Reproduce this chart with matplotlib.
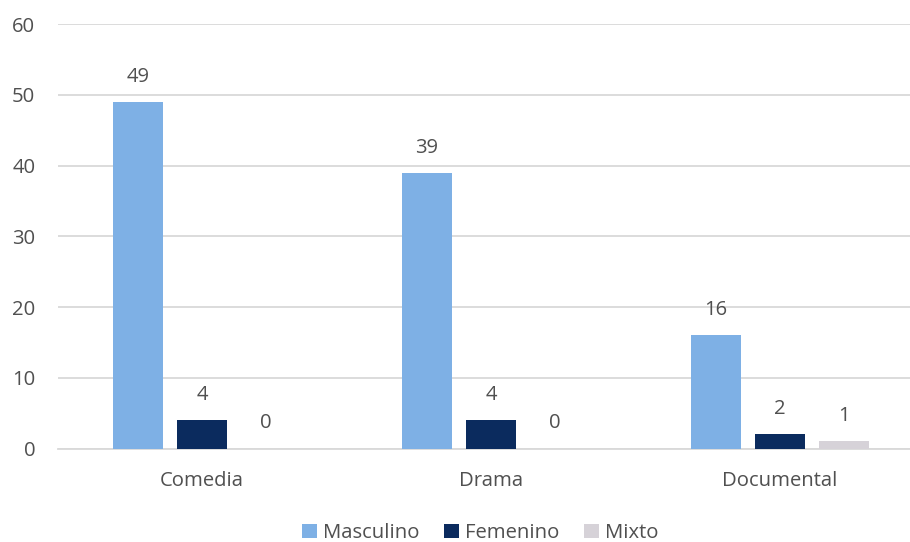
import matplotlib
matplotlib.use("Agg")
import matplotlib.pyplot as plt
from matplotlib import font_manager as fm
import numpy as np

categories = ["Comedia", "Drama", "Documental"]
series_names = ["Masculino", "Femenino", "Mixto"]
masculino = [49, 39, 16]
femenino = [4, 4, 2]
mixto = [0, 0, 1]
yticks = [0, 10, 20, 30, 40, 50, 60]

colors = ["#7EB0E5", "#0B2B5E", "#D6D2D8"]
text_color = "#505050"
grid_color = "#D9D9D9"

# pick a regular, normal-width Open Sans file deterministically
font_path = None
cands = []
for f in fm.fontManager.ttflist:
    if f.name == "Open Sans" and f.style == "normal":
        fn = f.fname.lower()
        if "condensed" in fn or "semi" in fn or "italic" in fn:
            continue
        cands.append(f)
cands.sort(key=lambda f: (abs((f.weight if isinstance(f.weight, int) else 400) - 400),
                          0 if "regular" in f.fname.lower() else 1, f.fname))
if cands:
    font_path = cands[0].fname

fs = 14.6
if font_path:
    fp = fm.FontProperties(fname=font_path, size=fs)
else:
    fp = fm.FontProperties(family="DejaVu Sans", size=fs)

W, H = 910, 542
fig = plt.figure(figsize=(W / 100, H / 100), dpi=100)
left_px, right_px = 57.5, 910
top_px, bottom_px = 24.3, 448.5
ax = fig.add_axes([left_px / W, 1 - bottom_px / H, (right_px - left_px) / W, (bottom_px - top_px) / H])

cat_px = 289.0
bar_w = 50 / cat_px
offset = 64 / cat_px
x = np.arange(len(categories))
data = [masculino, femenino, mixto]
for i, (name, vals, c) in enumerate(zip(series_names, data, colors)):
    xs = x + (i - 1) * offset
    ax.bar(xs, vals, width=bar_w, color=c, label=name, zorder=3)
    for xi, v in zip(xs, vals):
        ax.annotate(str(v), (xi, v), xytext=(0, 25), textcoords="offset pixels",
                    ha="center", va="center", fontproperties=fp, color=text_color)

ax.set_xlim(-0.5, -0.5 + (right_px - left_px) / cat_px)
ax.set_ylim(0, 60)
ax.set_yticks(yticks)
ax.set_xticks(x)
ax.set_xticklabels(categories)
ax.yaxis.grid(True, color=grid_color, linewidth=1.3, zorder=0)
ax.set_axisbelow(True)
for s in ["top", "right", "left"]:
    ax.spines[s].set_visible(False)
ax.spines["bottom"].set_color(grid_color)
ax.spines["bottom"].set_linewidth(1.3)
ax.tick_params(axis="both", length=0, colors=text_color)
ax.tick_params(axis="y", pad=16)
ax.tick_params(axis="x", pad=16.5)
for lab in ax.get_xticklabels() + ax.get_yticklabels():
    lab.set_fontproperties(fp)

leg = fig.legend(loc="center", bbox_to_anchor=(480 / W, 1 - 533 / H), ncol=3, frameon=False,
                 prop=fp, handlelength=0.75, handleheight=0.75, handletextpad=0.3,
                 columnspacing=1.2)
for t in leg.get_texts():
    t.set_color(text_color)

fig.savefig("out.png", dpi=100)
